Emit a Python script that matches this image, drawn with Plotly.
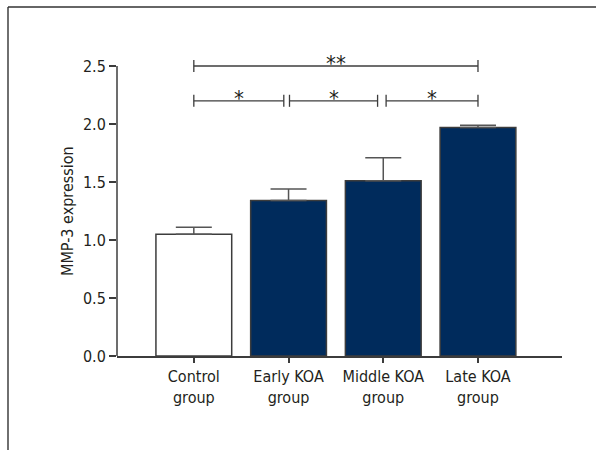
import plotly.graph_objects as go

# Data
groups = ["Control<br>group", "Early KOA<br>group", "Middle KOA<br>group", "Late KOA<br>group"]
means = [1.05, 1.34, 1.51, 1.97]
sems = [0.06, 0.10, 0.20, 0.02]
fills = ["#ffffff", "#002b5c", "#002b5c", "#002b5c"]

# Significance brackets: (start, end, level, label)
bracket_x0 = [0.0, 0.0, 1.01, 2.03]
bracket_x1 = [3.0, 0.95, 1.94, 3.0]
bracket_y = [2.5, 2.2, 2.2, 2.2]
bracket_label = ["**", "*", "*", "*"]

y_ticks = [0.0, 0.5, 1.0, 1.5, 2.0, 2.5]
y_axis_top = 2.5
y_range = [0, 2.75]
x_range = [-0.811, 3.887]

# Canvas / margins
W, H = 596, 450
L, R, T, B = 117, 34, 37, 94
PW, PH = W - L - R, H - T - B

FONT = "Liberation Sans Narrow, DejaVu Sans Condensed, Arial Narrow, sans-serif"
TXT = "#231f20"
LINE = "#3c3c3c"

xpos = list(range(len(groups)))

fig = go.Figure()
fig.add_trace(go.Bar(
    x=xpos, y=means, width=0.8,
    marker=dict(color=fills, line=dict(color=LINE, width=1.5)),
    error_y=dict(type="data", array=sems, arrayminus=[0] * len(sems), symmetric=False,
                 color="#555555", thickness=1.5, width=18),
    showlegend=False,
))

# brackets
tick_h = 0.052
for x0, x1, yv, lab in zip(bracket_x0, bracket_x1, bracket_y, bracket_label):
    fig.add_trace(go.Scatter(
        x=[x0, x0, None, x0, x1, None, x1, x1],
        y=[yv - tick_h, yv + tick_h, None, yv, yv, None, yv - tick_h, yv + tick_h],
        mode="lines", line=dict(color=LINE, width=1.3),
        showlegend=False, hoverinfo="skip", cliponaxis=False,
    ))
    fig.add_annotation(x=(x0 + x1) / 2, y=yv, xref="x", yref="y", text=lab,
                       showarrow=False, yanchor="bottom", yshift=-12,
                       font=dict(family=FONT, size=22, color=TXT))

def px_x(p):
    return (p - L) / PW

def px_y(p):
    return (H - B - p) / PH

# y-axis line ending at the 2.5 tick
fig.add_shape(type="line", xref="paper", yref="paper",
              x0=0, x1=0, y0=0, y1=y_axis_top / y_range[1],
              line=dict(color=LINE, width=1.5))

# outer frame (top and left edges)
fig.add_shape(type="line", xref="paper", yref="paper",
              x0=px_x(8), x1=px_x(W + 2), y0=px_y(7), y1=px_y(7),
              line=dict(color="#333333", width=1.4))
fig.add_shape(type="line", xref="paper", yref="paper",
              x0=px_x(8), x1=px_x(8), y0=px_y(7), y1=px_y(H + 2),
              line=dict(color="#333333", width=1.4))

# y-axis title
fig.add_annotation(text="MMP-3 expression", xref="paper", yref="y",
                   x=px_x(67), y=y_axis_top / 2, textangle=-90, showarrow=False,
                   xanchor="center", yanchor="middle",
                   font=dict(family=FONT, size=16, color=TXT))

fig.update_layout(
    width=W, height=H,
    margin=dict(l=L, r=R, t=T, b=B, pad=0),
    paper_bgcolor="white", plot_bgcolor="white",
    font=dict(family=FONT, size=16, color=TXT),
    bargap=0.2,
)
fig.update_xaxes(
    range=x_range, tickvals=xpos, ticktext=groups,
    showline=True, linecolor=LINE, linewidth=1.5,
    ticks="outside", ticklen=5, tickcolor=LINE, tickwidth=1.5,
    showgrid=False, zeroline=False,
    tickfont=dict(family=FONT, size=16, color=TXT),
)
fig.update_yaxes(
    range=y_range, tickvals=y_ticks, ticktext=[f"{v:.1f}" for v in y_ticks],
    showline=False, ticks="outside", ticklen=7, tickcolor=LINE, tickwidth=1.5,
    showgrid=False, zeroline=False,
    tickfont=dict(family=FONT, size=16, color=TXT),
)

fig.write_html("out.html")
